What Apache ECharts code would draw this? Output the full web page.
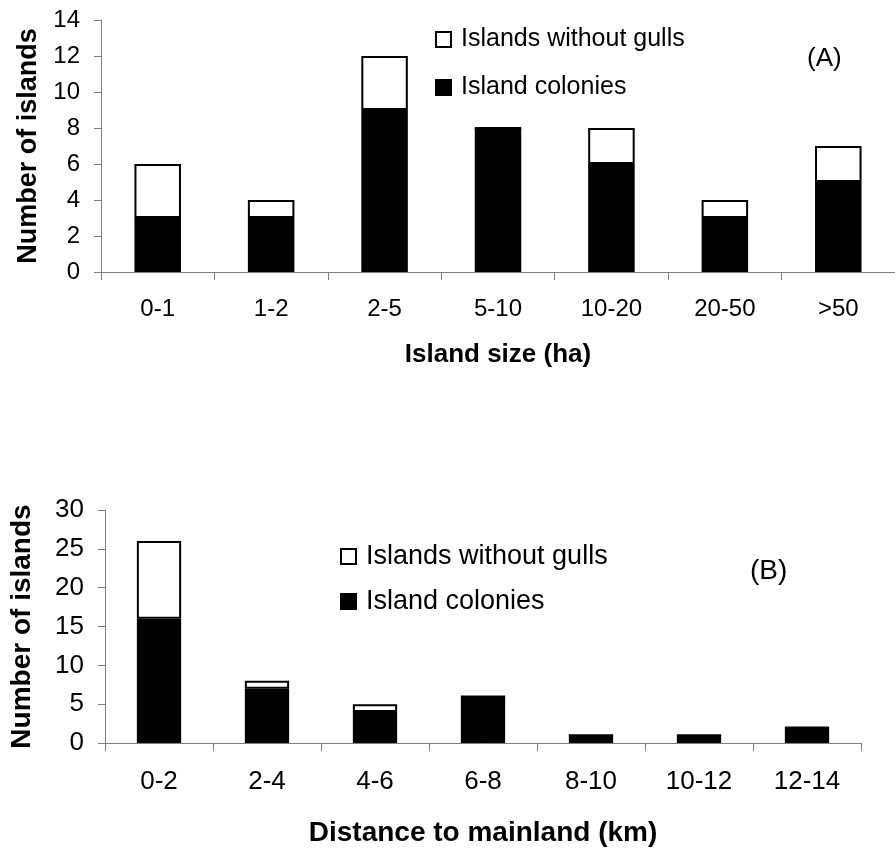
<!DOCTYPE html>
<html><head><meta charset="utf-8">
<script src="https://cdn.jsdelivr.net/npm/echarts@6/dist/echarts.min.js"></script>
<style>html,body{margin:0;padding:0;background:#fff}#c{width:895px;height:848px}</style>
</head><body><div id="c"></div>
<script>
const sizeCats = ['0-1','1-2','2-5','5-10','10-20','20-50','>50'];
const sizeColonies = [3,3,9,8,6,3,5];
const sizeWithout = [3,1,3,0,2,1,2];
const sizeTicks = [0,14,2];
const distCats = ['0-2','2-4','4-6','6-8','8-10','10-12','12-14'];
const distColonies = [16,7,4,6,1,1,2];
const distWithout = [10,1,1,0,0,0,0];
const distTicks = [0,30,5];
const NAME_W = 'Islands without gulls';
const NAME_C = 'Island colonies';

const FONT = '"Liberation Sans", Arial, sans-serif';
const axisGray = '#808080';
function xAx(idx, cats, name, fs, margin, gap, nameFs){
  return {type:'category', gridIndex:idx, data:cats,
    axisLine:{lineStyle:{color:axisGray,width:1}},
    axisTick:{show:true,length:8,lineStyle:{color:axisGray}},
    axisLabel:{color:'#000',fontSize:fs,fontFamily:FONT,margin:margin},
    name:name, nameLocation:'middle', nameGap:gap,
    nameTextStyle:{color:'#000',fontSize:nameFs,fontWeight:'bold',fontFamily:FONT}};
}
function yAx(idx, t, fs, gap, nameFs){
  return {type:'value', gridIndex:idx, min:t[0], max:t[1], interval:t[2],
    axisLine:{show:true,lineStyle:{color:axisGray,width:1}},
    axisTick:{show:true,length:7,lineStyle:{color:axisGray}},
    splitLine:{show:false},
    axisLabel:{color:'#000',fontSize:fs,fontFamily:FONT,margin:21},
    name:'Number of islands', nameLocation:'middle', nameGap:gap, nameRotate:90,
    nameTextStyle:{color:'#000',fontSize:nameFs,fontWeight:'bold',fontFamily:FONT}};
}
function bars(idx, colonies, without){
  return [
    {name:NAME_C, type:'bar', xAxisIndex:idx, yAxisIndex:idx, stack:'s'+idx, data:colonies,
     barWidth:'41%', itemStyle:{color:'#000',borderColor:'#000',borderWidth:1.5}},
    {name:NAME_W, type:'bar', xAxisIndex:idx, yAxisIndex:idx, stack:'s'+idx, data:without,
     barWidth:'41%', itemStyle:{color:'#fff',borderColor:'#000',borderWidth:2}}
  ];
}
function legend(left, top, gap, fs){
  return {left:left, top:top, orient:'vertical', itemGap:gap, itemWidth:15, itemHeight:15, icon:'rect',
    data:[NAME_W, NAME_C], selectedMode:false,
    textStyle:{color:'#000',fontSize:fs,fontFamily:FONT,padding:[0,0,0,5]}};
}
const chart = echarts.init(document.getElementById('c'), null, {renderer:'canvas'});
chart.setOption({
  animation:false,
  backgroundColor:'#fff',
  grid:[
    {left:101, top:20, width:800, height:252},
    {left:101, top:510, width:760, height:234}
  ],
  xAxis:[xAx(0,sizeCats,'Island size (ha)',24,25,70,26), xAx(1,distCats,'Distance to mainland (km)',26,26,76,28)],
  yAxis:[yAx(0,sizeTicks,24,56,27), yAx(1,distTicks,26,69,28)],
  legend:[legend(430,22,23,25), legend(335,538,18,27)],
  title:[
    {text:'(A)', left:802, top:41, textStyle:{color:'#000',fontSize:26,fontWeight:'normal',fontFamily:FONT}},
    {text:'(B)', left:745, top:552, textStyle:{color:'#000',fontSize:28,fontWeight:'normal',fontFamily:FONT}}
  ],
  series:[...bars(0,sizeColonies,sizeWithout), ...bars(1,distColonies,distWithout)]
});
</script></body></html>
